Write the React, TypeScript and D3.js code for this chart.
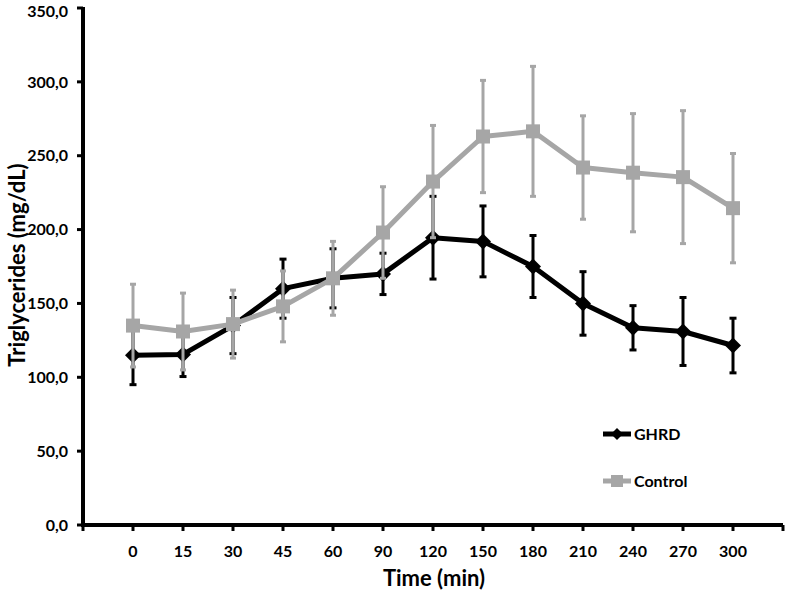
import React from "react";
import * as d3 from "d3";

const categories = ["0", "15", "30", "45", "60", "90", "120", "150", "180", "210", "240", "270", "300"];
const ghrd = [115, 115.5, 135, 160, 167, 170, 194.5, 192, 175, 150, 133.5, 131, 121.5];
const ghrdErr = [20, 15, 19, 20, 20, 14, 28, 24, 21, 21.5, 15, 23, 18.5];
const control = [135, 131, 136, 148, 167, 198, 232.5, 263, 266.5, 242, 238.5, 235.5, 214.5];
const controlErr = [28, 26, 23, 24, 25, 31, 38, 38, 44, 35, 40, 45, 37];
const yTicks = [0, 50, 100, 150, 200, 250, 300, 350];

const W = 788;
const H = 593;
const FONT = "Lato, 'Open Sans', sans-serif";

export default function App() {
  const x = d3.scalePoint<string>().domain(categories).range([133, 733]);
  const step = x.step();
  const y = d3.scaleLinear().domain([0, 350]).range([525, 8]);
  const x0 = x(categories[0])! - step;
  const x1 = x(categories[categories.length - 1])! + step;
  const tickXs = d3.range(categories.length + 2).map((i) => x0 + i * step);

  const line = d3
    .line<number>()
    .x((_, i) => x(categories[i])!)
    .y((d) => y(d));

  const fmt = (v: number) => v.toFixed(1).replace(".", ",");
  const tickFont = 16;

  const diamond = (cx: number, cy: number, r: number) =>
    `M${cx},${cy - r}L${cx + r},${cy}L${cx},${cy + r}L${cx - r},${cy}Z`;

  const errBars = (vals: number[], errs: number[], color: string, capW: number) =>
    vals.map((v, i) => {
      const cx = x(categories[i])!;
      const top = y(v + errs[i]);
      const bot = y(v - errs[i]);
      return (
        <g key={"e" + i}>
          <line x1={cx} x2={cx} y1={top} y2={bot} stroke={color} strokeWidth={3} />
          <line x1={cx - capW / 2} x2={cx + capW / 2} y1={top} y2={top} stroke={color} strokeWidth={3} />
          <line x1={cx - capW / 2} x2={cx + capW / 2} y1={bot} y2={bot} stroke={color} strokeWidth={3} />
        </g>
      );
    });

  const black = "#000000";
  const grey = "#a6a6a6";

  return (
    <svg width={W} height={H} style={{ position: "absolute", left: 0, top: 0, background: "#fff" }}>
      <rect width={W} height={H} fill="#fff" />
      {/* GHRD */}
      {errBars(ghrd, ghrdErr, black, 7)}
      <path d={line(ghrd)!} fill="none" stroke={black} strokeWidth={5} strokeLinejoin="round" />
      {ghrd.map((v, i) => (
        <path key={"d" + i} d={diamond(x(categories[i])!, y(v), 8)} fill={black} />
      ))}
      {/* Control */}
      {errBars(control, controlErr, grey, 6)}
      <path d={line(control)!} fill="none" stroke={grey} strokeWidth={5} strokeLinejoin="round" />
      {control.map((v, i) => (
        <rect key={"s" + i} x={x(categories[i])! - 7} y={y(v) - 7} width={14} height={14} fill={grey} />
      ))}

      {/* axes */}
      <line x1={x0} x2={x0} y1={y(350) - 1} y2={y(0) + 2} stroke="#000" strokeWidth={4} />
      <line x1={x0 - 2} x2={x1} y1={y(0)} y2={y(0)} stroke="#000" strokeWidth={4} />
      {yTicks.map((t) => (
        <g key={"yt" + t}>
          <line x1={x0 - 6} x2={x0} y1={y(t)} y2={y(t)} stroke="#000" strokeWidth={3} />
          <text
            x={x0 - 15}
            y={Math.max(y(t) + 0.36 * tickFont, 16.5)}
            textAnchor="end"
            fontFamily={FONT}
            fontWeight="bold"
            fontSize={tickFont}
            fill="#000"
          >
            {fmt(t)}
          </text>
        </g>
      ))}
      {tickXs.map((tx, i) => (
        <line key={"xt" + i} x1={tx} x2={tx} y1={y(0)} y2={y(0) + 6} stroke="#000" strokeWidth={3} />
      ))}
      {categories.map((c) => (
        <text key={"xl" + c} x={x(c)!} y={557} textAnchor="middle" fontFamily={FONT} fontWeight="bold" fontSize={16} fill="#000">
          {c}
        </text>
      ))}
      <text x={434} y={586} textAnchor="middle" fontFamily={FONT} fontWeight="bold" fontSize={22} fill="#000">
        Time (min)
      </text>
      <text
        transform={`translate(25,${265}) rotate(-90)`}
        textAnchor="middle"
        fontFamily={FONT}
        fontWeight="bold"
        fontSize={22}
        fill="#000"
      >
        Triglycerides (mg/dL)
      </text>

      {/* legend */}
      <line x1={603} x2={631} y1={434} y2={434} stroke={black} strokeWidth={5} />
      <path d={diamond(617, 434, 6)} fill={black} />
      <text x={634} y={434} dy="0.35em" fontFamily={FONT} fontWeight="bold" fontSize={16} fill="#000">
        GHRD
      </text>
      <line x1={603} x2={631} y1={481} y2={481} stroke={grey} strokeWidth={5} />
      <rect x={611} y={475} width={12} height={12} fill={grey} />
      <text x={634} y={481} dy="0.35em" fontFamily={FONT} fontWeight="bold" fontSize={16} fill="#000">
        Control
      </text>
    </svg>
  );
}
